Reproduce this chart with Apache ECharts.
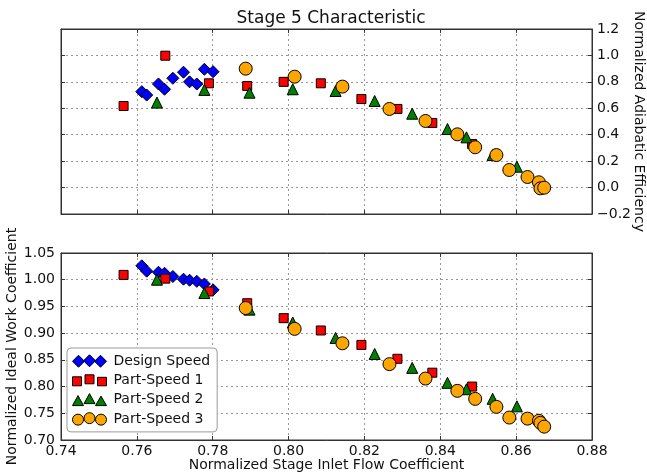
<!DOCTYPE html>
<html><head><meta charset="utf-8">
<script src="https://cdn.jsdelivr.net/npm/echarts/dist/echarts.min.js"></script>
<style>html,body{margin:0;padding:0;background:#fff}#c{width:647px;height:472px}</style>
</head><body><div id="c"></div>
<script>
// ---- data ----
const titleText = 'Stage 5 Characteristic';
const seriesNames = ['Design Speed', 'Part-Speed 1', 'Part-Speed 2', 'Part-Speed 3'];

const designFlow = [0.7613, 0.7626, 0.7657, 0.7673, 0.7695, 0.7723, 0.7739, 0.7758, 0.7778, 0.7801];
const designEff  = [0.726, 0.700, 0.784, 0.744, 0.827, 0.873, 0.800, 0.784, 0.895, 0.877];
const designWork = [1.026, 1.016, 1.014, 1.012, 1.006, 1.001, 0.999, 0.997, 0.992, 0.981];

const ps1Flow = [0.7565, 0.7675, 0.7790, 0.7891, 0.7987, 0.8085, 0.8192, 0.8287, 0.8379, 0.8484];
const ps1Eff  = [0.617, 0.998, 0.789, 0.769, 0.800, 0.789, 0.670, 0.595, 0.489, 0.330];
const ps1Work = [1.009, 1.002, 0.978, 0.956, 0.928, 0.905, 0.878, 0.852, 0.826, 0.800];

const ps2Flow = [0.7653, 0.7778, 0.7897, 0.8011, 0.8124, 0.8227, 0.8326, 0.8419, 0.8469, 0.8538, 0.8602];
const ps2Eff  = [0.643, 0.739, 0.718, 0.744, 0.731, 0.655, 0.559, 0.443, 0.380, 0.246, 0.158];
const ps2Work = [1.000, 0.975, 0.944, 0.920, 0.891, 0.861, 0.835, 0.807, 0.795, 0.777, 0.763];

const ps3Flow = [0.7887, 0.8016, 0.8142, 0.8266, 0.8361, 0.8445, 0.8492, 0.8548, 0.8582, 0.8630, 0.8660, 0.8664, 0.8674];
const ps3Eff  = [0.900, 0.839, 0.764, 0.595, 0.504, 0.403, 0.305, 0.246, 0.133, 0.080, 0.040, -0.006, -0.001];
const ps3Work = [0.947, 0.908, 0.881, 0.842, 0.815, 0.792, 0.777, 0.762, 0.742, 0.740, 0.736, 0.732, 0.725];

const flowTicks = [0.74, 0.76, 0.78, 0.80, 0.82, 0.84, 0.86, 0.88];
const effTicks  = [-0.2, 0.0, 0.2, 0.4, 0.6, 0.8, 1.0, 1.2];
const workTicks = [0.70, 0.75, 0.80, 0.85, 0.90, 0.95, 1.00, 1.05];

const xName = 'Normalized Stage Inlet Flow Coefficient';
const effName = 'Normalized Adiabatic Efficiency';
const workName = 'Normalized Ideal Work Coefficient';

// ---- styling ----
const FONT = 'DejaVu Sans';
const TXT = '#111';
const FS = 14;
const colors = ['#0000ff', '#ff0000', '#008000', '#ffa500'];
const symbols = ['diamond', 'rect', 'triangle', 'circle'];
const sizes = [12, 9, 11, 13];
const flows = [designFlow, ps1Flow, ps2Flow, ps3Flow];
const effs = [designEff, ps1Eff, ps2Eff, ps3Eff];
const works = [designWork, ps1Work, ps2Work, ps3Work];

const legendIcons = [
  'path://M0,7 L6,1 L12,7 L6,13 Z M11,6.5 L17,0.5 L23,6.5 L17,12.5 Z M22,7 L28,1 L34,7 L28,13 Z',
  'path://M0,4 L9,4 L9,13 L0,13 Z M12.5,2 L21.5,2 L21.5,11 L12.5,11 Z M25,4.5 L34,4.5 L34,13 L25,13 Z',
  'path://M0,13 L5.5,3 L11,13 Z M11.5,11 L17,1 L22.5,11 Z M23,13 L28.5,3.5 L34,13 Z',
  'path://M0,7.5 A5.5,5.5 0 1,0 11,7.5 A5.5,5.5 0 1,0 0,7.5 Z M11.5,6 A5.5,5.5 0 1,0 22.5,6 A5.5,5.5 0 1,0 11.5,6 Z M23,7.5 A5.5,5.5 0 1,0 34,7.5 A5.5,5.5 0 1,0 23,7.5 Z'
];

function fmt(v, d) {
  const s = Math.abs(v).toFixed(d);
  return (v < -1e-9 ? '\u2212' : '') + s;
}
const splitLine = { show: true, lineStyle: { color: '#999', type: [2, 3], width: 1 } };
const tickIn = { show: true, inside: true, length: 4, lineStyle: { color: '#333' } };
const axisLine = { show: true, onZero: false, lineStyle: { color: '#333', width: 1 } };
const lbl = (d) => ({ fontFamily: FONT, fontSize: FS, color: TXT, formatter: (v) => fmt(v, d) });
const nameStyle = { fontFamily: FONT, fontSize: FS, color: TXT };

const fx = { min: flowTicks[0], max: flowTicks[flowTicks.length - 1], interval: 0.02 };
const fe = { min: effTicks[0], max: effTicks[effTicks.length - 1], interval: 0.2 };
const fw = { min: workTicks[0], max: workTicks[workTicks.length - 1], interval: 0.05 };

const series = [];
for (let i = 0; i < 4; i++) {
  const base = {
    type: 'scatter', name: seriesNames[i], symbol: symbols[i], symbolSize: sizes[i],
    itemStyle: { color: colors[i], borderColor: '#000', borderWidth: 1, opacity: 1 },
    emphasis: { disabled: true }, z: 3 + i
  };
  series.push(Object.assign({}, base, { xAxisIndex: 0, yAxisIndex: 0,
    data: flows[i].map((x, k) => [x, effs[i][k]]) }));
  series.push(Object.assign({}, base, { xAxisIndex: 2, yAxisIndex: 2,
    data: flows[i].map((x, k) => [x, works[i][k]]) }));
}

const chart = echarts.init(document.getElementById('c'), null, { renderer: 'canvas' });
chart.setOption({
  animation: false,
  backgroundColor: '#fff',
  title: { text: titleText, left: 326, top: 5, textAlign: 'center',
    textStyle: { fontFamily: FONT, fontSize: 17, fontWeight: 'normal', color: TXT } },
  legend: {
    orient: 'vertical', left: 67, top: 348, itemGap: 5.3, itemWidth: 34, itemHeight: 13,
    padding: [6, 7, 6, 5], borderColor: '#999', borderWidth: 1, borderRadius: 4,
    backgroundColor: '#fff', selectedMode: false,
    textStyle: { fontFamily: FONT, fontSize: FS, color: TXT, padding: [0, 0, 0, 2] },
    data: seriesNames.map((n, i) => ({ name: n, icon: legendIcons[i],
      itemStyle: { color: colors[i], borderColor: '#000', borderWidth: 1 } }))
  },
  grid: [
    { left: 61, right: 55, top: 29, height: 185, show: true, borderColor: '#333', borderWidth: 1, backgroundColor: '#fff', containLabel: false, outerBoundsMode: 'none' },
    { left: 61, right: 55, top: 253, height: 187, show: true, borderColor: '#333', borderWidth: 1, backgroundColor: '#fff', containLabel: false, outerBoundsMode: 'none' }
  ],
  xAxis: [
    Object.assign({ type: 'value', gridIndex: 0, position: 'bottom', axisLine, axisTick: tickIn, axisLabel: { show: false }, splitLine }, fx),
    Object.assign({ type: 'value', gridIndex: 0, position: 'top', axisLine, axisTick: tickIn, axisLabel: { show: false }, splitLine: { show: false } }, fx),
    Object.assign({ type: 'value', gridIndex: 1, position: 'bottom', axisLine, axisTick: tickIn,
      axisLabel: Object.assign(lbl(2), { margin: 4 }), splitLine,
      name: xName, nameLocation: 'middle', nameGap: 18, nameMoveOverlap: false,
      nameTextStyle: nameStyle }, fx),
    Object.assign({ type: 'value', gridIndex: 1, position: 'top', axisLine, axisTick: tickIn, axisLabel: { show: false }, splitLine: { show: false } }, fx)
  ],
  yAxis: [
    Object.assign({ type: 'value', gridIndex: 0, position: 'right', axisLine, axisTick: tickIn,
      axisLabel: Object.assign(lbl(1), { margin: 5 }), splitLine,
      name: effName, nameLocation: 'middle', nameRotate: -90, nameGap: 40, nameMoveOverlap: false,
      nameTextStyle: nameStyle }, fe),
    Object.assign({ type: 'value', gridIndex: 0, position: 'left', axisLine, axisTick: tickIn, axisLabel: { show: false }, splitLine: { show: false } }, fe),
    Object.assign({ type: 'value', gridIndex: 1, position: 'left', axisLine, axisTick: tickIn,
      axisLabel: Object.assign(lbl(2), { margin: 6 }), splitLine,
      name: workName, nameLocation: 'middle', nameRotate: 90, nameGap: 42, nameMoveOverlap: false,
      nameTextStyle: nameStyle }, fw),
    Object.assign({ type: 'value', gridIndex: 1, position: 'right', axisLine, axisTick: tickIn, axisLabel: { show: false }, splitLine: { show: false } }, fw)
  ],
  series
});
</script>
</body></html>
